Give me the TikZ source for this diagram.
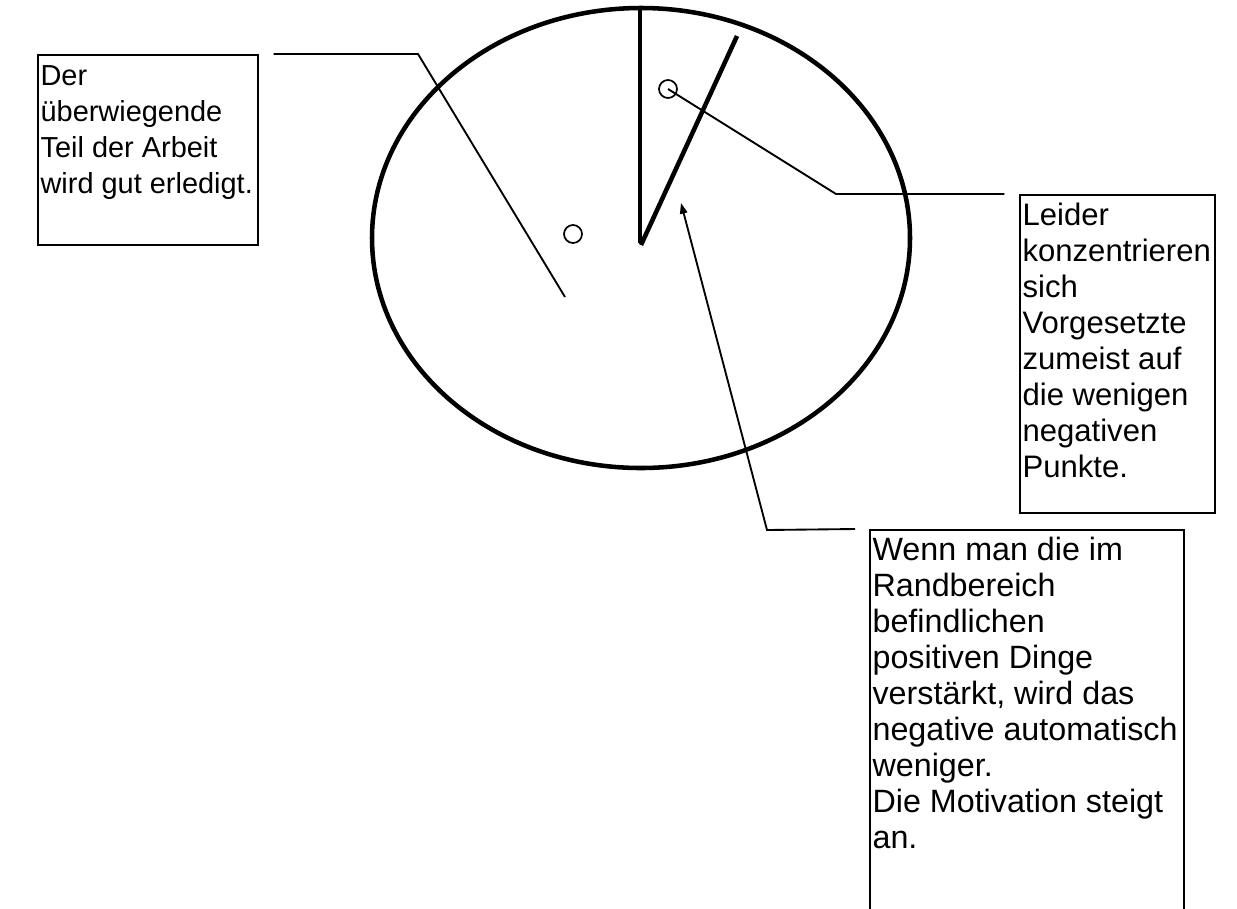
\documentclass[tikz,border=0pt]{standalone}
\usepackage{fontspec}
\setmainfont{Liberation Sans}
\usetikzlibrary{arrows.meta, positioning, shapes.geometric}

\newcommand{\notetext}[3]{\parbox[c][#2][t]{#1}{\raggedright\vspace*{2pt}\strut #3}}

\begin{document}
\begin{tikzpicture}[
        x=0.75pt, y=-0.75pt,
        note/.style={rectangle, draw=black, line width=1.4pt, anchor=north west, inner sep=2pt,
            font=\fontsize{23.3pt}{27pt}\selectfont},
        pie/.style={ellipse, draw=black, line width=3.4pt, minimum width=403.5pt, minimum height=345pt, inner sep=0pt},
        wedge/.style={line width=3.4pt},
        dot/.style={circle, draw=black, line width=1.3pt, minimum size=13.5pt, inner sep=0pt},
        leader/.style={line width=1.4pt},
        pointer/.style={-{Triangle[length=8pt, width=5.5pt]}, line width=1.4pt}
    ]
    \path[use as bounding box, clip] (0,0) rectangle (1237,908);

    % pie and cut-out wedge
    \node (pie) [pie] at (641,238) {};
    \coordinate (hub) at (640,243);
    \draw [wedge] (640,8) -- (hub);
    \draw [wedge] (641,245) -- (737,36);

    \node (dotbig) [dot] at (573,234) {};
    \node (dotsmall) [dot] at (668,89) {};

    % text boxes
    \node (good) [note, font=\fontsize{21.7pt}{27pt}\selectfont] at (37,54) {\notetext{161pt}{138.5pt}{Der\\überwiegende\\Teil der Arbeit\\wird gut erledigt.}};
    \node (neg) [note] at (1019,194) {\notetext{142pt}{234.5pt}{Leider\\konzentrieren\\sich\\Vorgesetzte\\zumeist auf\\die wenigen\\negativen\\Punkte.}};
    \node (pos) [note, font=\fontsize{24.2pt}{27pt}\selectfont] at (869,529) {\notetext{231.5pt}{319pt}{Wenn man die im\\Randbereich\\befindlichen\\positiven Dinge\\verstärkt, wird das\\\mbox{negative automatisch}\\weniger.\\Die Motivation steigt\\an.}};

    % leader lines
    \coordinate (goodend) at (565,297);
    \coordinate (tip) at (681,203);
    \draw [leader] ([xshift=11pt]good.north east) -- (418,54) -- (goodend);
    \draw [leader] (dotsmall.center) -- (836,194) -- ([xshift=-11pt]neg.north west);
    \draw [pointer] ([xshift=-10.5pt]pos.north west) -- (767,530) -- (tip);

\end{tikzpicture}
\end{document}
